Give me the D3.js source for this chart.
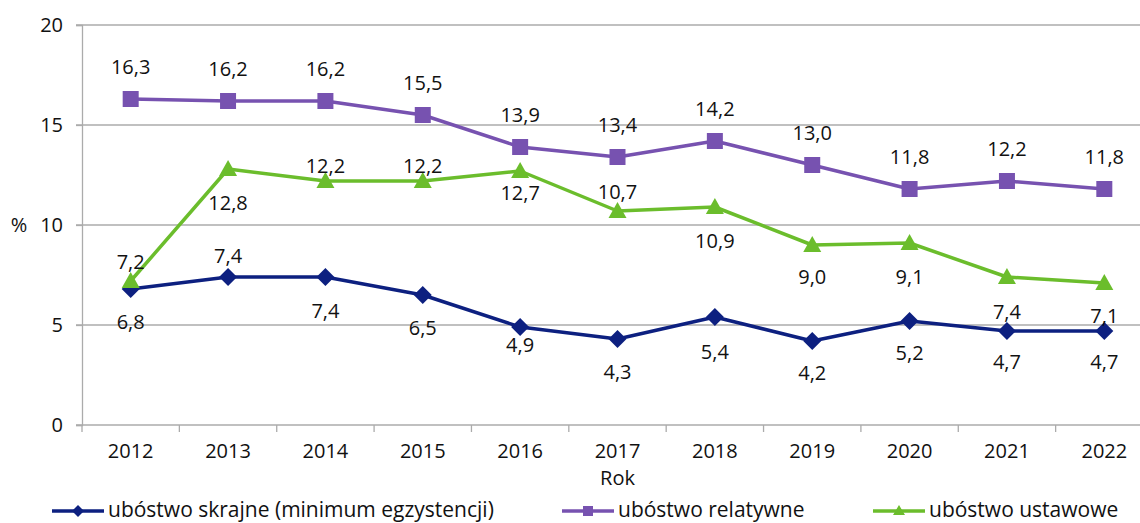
<!DOCTYPE html>
<html><head><meta charset="utf-8">
<script src="https://cdn.jsdelivr.net/npm/d3@7/dist/d3.min.js"></script>
<style>
html,body{margin:0;padding:0;background:#fff;}
svg{display:block;font-family:"Open Sans",sans-serif;}
</style></head>
<body><svg id="c" width="1140" height="523"></svg>
<script>
const years = ["2012","2013","2014","2015","2016","2017","2018","2019","2020","2021","2022"];
const skrajne   = [6.8, 7.4, 7.4, 6.5, 4.9, 4.3, 5.4, 4.2, 5.2, 4.7, 4.7];
const relatywne = [16.3, 16.2, 16.2, 15.5, 13.9, 13.4, 14.2, 13.0, 11.8, 12.2, 11.8];
const ustawowe  = [7.2, 12.8, 12.2, 12.2, 12.7, 10.7, 10.9, 9.0, 9.1, 7.4, 7.1];
const yTicks = [0, 5, 10, 15, 20];
const seriesNames = ["ubóstwo skrajne (minimum egzystencji)", "ubóstwo relatywne", "ubóstwo ustawowe"];

// label layout (pixel offsets of value labels from points)
const labelDy = {
  skrajne:   [33, -21, 34, 33, 18, 33, 35, 32, 32, 31, 31],
  relatywne: [-32, -32, -32, -32, -32, -32, -32, -32, -32, -32, -32],
  ustawowe:  [-19, 34, -15, -15, 22, -19, 34, 32, 34, 35, 33]
};

const FS = 20;
const svg = d3.select("#c");
const x = d3.scaleBand().domain(years).range([82, 1153]);
const y = d3.scaleLinear().domain([0, 20]).range([425, 25]);
const gridColor = "#ababab";

// gridlines
svg.append("g").selectAll("line").data(yTicks.filter(d => d > 0)).join("line")
  .attr("x1", 76).attr("x2", 1153)
  .attr("y1", d => y(d)).attr("y2", d => y(d))
  .attr("stroke", gridColor).attr("stroke-width", 1.3);

// y axis
const yAxis = svg.append("g").attr("transform", "translate(82,0)")
  .call(d3.axisLeft(y).tickValues(yTicks).tickSize(6).tickPadding(13).tickFormat(d => d));
yAxis.select(".domain").attr("stroke", gridColor).attr("stroke-width", 1.3);
yAxis.selectAll(".tick line").attr("stroke", gridColor).attr("stroke-width", 1.3);
yAxis.selectAll("text").attr("font-size", FS).attr("fill", "#111").attr("font-family", "Open Sans");

// x axis
const xAxis = svg.append("g").attr("transform", "translate(0,425)")
  .call(d3.axisBottom(x).tickSize(0).tickPadding(19));
xAxis.select(".domain").remove();
xAxis.selectAll("text").attr("font-size", FS).attr("fill", "#111").attr("font-family", "Open Sans");
svg.append("line").attr("x1", 76).attr("x2", 1153).attr("y1", 425).attr("y2", 425)
  .attr("stroke", gridColor).attr("stroke-width", 1.3);
// tick marks at band boundaries
svg.append("g").selectAll("line").data(years).join("line")
  .attr("x1", d => x(d)).attr("x2", d => x(d))
  .attr("y1", 425).attr("y2", 432)
  .attr("stroke", gridColor).attr("stroke-width", 1.3);

// axis titles
svg.append("text").attr("x", x("2017") + x.bandwidth()/2).attr("y", 478).attr("dy", "0.35em")
  .attr("text-anchor", "middle").attr("font-size", FS).attr("fill", "#111").text("Rok");
svg.append("text").attr("x", 19).attr("y", y(10)).attr("dy", "0.35em")
  .attr("text-anchor", "middle").attr("font-size", FS).attr("fill", "#111").text("%");

const cx = d => x(d) + x.bandwidth()/2;
const series = [
  {key: "skrajne", values: skrajne, color: "#0d2080", marker: "diamond", name: seriesNames[0]},
  {key: "relatywne", values: relatywne, color: "#7752b0", marker: "square", name: seriesNames[1]},
  {key: "ustawowe", values: ustawowe, color: "#6bbd2c", marker: "triangle", name: seriesNames[2]}
];

function marker(g, type, px, py, color) {
  if (type === "square") {
    g.append("rect").attr("x", px - 8).attr("y", py - 8).attr("width", 16).attr("height", 16).attr("fill", color);
  } else if (type === "diamond") {
    g.append("path").attr("d", `M${px},${py-9}L${px+9},${py}L${px},${py+9}L${px-9},${py}Z`).attr("fill", color);
  } else {
    g.append("path").attr("d", `M${px},${py-9}L${px+9},${py+7}L${px-9},${py+7}Z`).attr("fill", color);
  }
}

const line = d3.line().x((d, i) => cx(years[i])).y(d => y(d));
series.forEach(s => {
  const g = svg.append("g");
  g.append("path").attr("d", line(s.values)).attr("fill", "none")
    .attr("stroke", s.color).attr("stroke-width", 3.5).attr("stroke-linejoin", "round");
  s.values.forEach((v, i) => marker(g, s.marker, cx(years[i]), y(v), s.color));
});
series.forEach(s => {
  svg.append("g").selectAll("text").data(s.values).join("text")
    .attr("x", (d, i) => cx(years[i]))
    .attr("y", (d, i) => y(d) + labelDy[s.key][i])
    .attr("dy", "0.35em")
    .attr("text-anchor", "middle").attr("font-size", FS).attr("fill", "#111")
    .text(d => d3.format(".1f")(d).replace(".", ","));
});

// legend
const legX = [52, 562, 873];
series.forEach((s, i) => {
  const g = svg.append("g");
  const ly = 511;
  g.append("line").attr("x1", legX[i]).attr("x2", legX[i] + 52).attr("y1", ly).attr("y2", ly)
    .attr("stroke", s.color).attr("stroke-width", 3.5);
  const mx = legX[i] + 26;
  if (s.marker === "square") g.append("rect").attr("x", mx-5).attr("y", ly-5).attr("width", 10).attr("height", 10).attr("fill", s.color);
  else if (s.marker === "diamond") g.append("path").attr("d", `M${mx},${ly-6}L${mx+6},${ly}L${mx},${ly+6}L${mx-6},${ly}Z`).attr("fill", s.color);
  else g.append("path").attr("d", `M${mx},${ly-6}L${mx+6},${ly+4}L${mx-6},${ly+4}Z`).attr("fill", s.color);
  g.append("text").attr("x", legX[i] + 56).attr("y", ly).attr("dy", "0.3em")
    .attr("font-size", 21).attr("fill", "#111").text(s.name);
});
</script></body></html>
